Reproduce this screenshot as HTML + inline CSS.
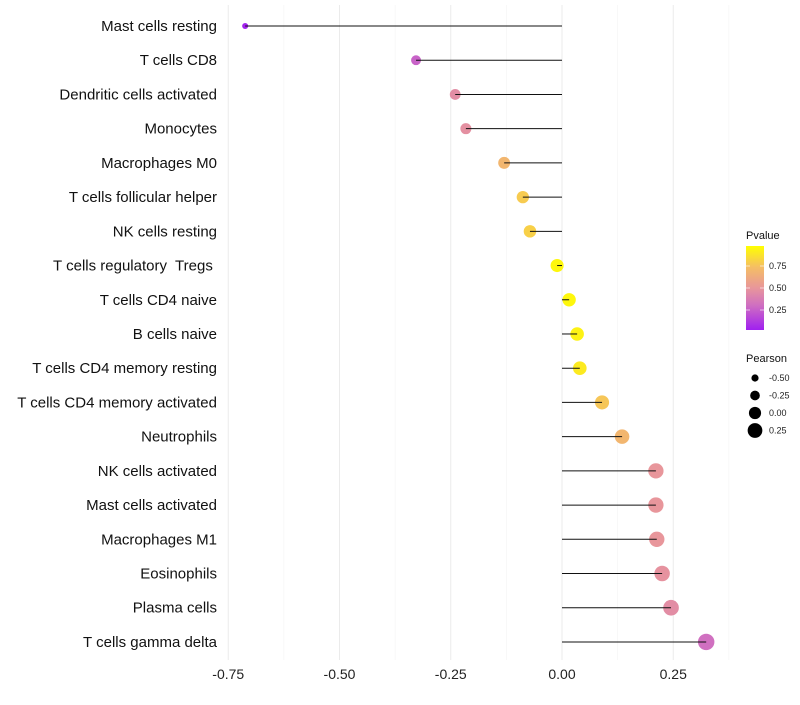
<!DOCTYPE html>
<html><head><meta charset="utf-8"><style>
body{margin:0;background:#fff;font-family:"Liberation Sans",sans-serif}
text{white-space:pre}
</style></head><body>
<svg id="c" width="800" height="700" xmlns="http://www.w3.org/2000/svg"></svg>
<script>
const categories=["Mast cells resting","T cells CD8","Dendritic cells activated","Monocytes","Macrophages M0","T cells follicular helper","NK cells resting","T cells regulatory  Tregs ","T cells CD4 naive","B cells naive","T cells CD4 memory resting","T cells CD4 memory activated","Neutrophils","NK cells activated","Mast cells activated","Macrophages M1","Eosinophils","Plasma cells","T cells gamma delta"];
const pearson=[-0.712,-0.328,-0.24,-0.216,-0.13,-0.088,-0.072,-0.011,0.016,0.034,0.04,0.09,0.135,0.211,0.211,0.213,0.225,0.245,0.324];
const pvalues=[0.01,0.25,0.45,0.47,0.7,0.8,0.82,0.97,0.97,0.95,0.92,0.78,0.7,0.5,0.5,0.5,0.48,0.45,0.3];
const xTicks=[-0.75,-0.5,-0.25,0,0.25];
const xTickLabels=["-0.75","-0.50","-0.25","0.00","0.25"];
const sizeLegend=[-0.5,-0.25,0,0.25];
const sizeLegendLabels=["-0.50","-0.25","0.00","0.25"];
const NS="http://www.w3.org/2000/svg";
const svg=document.getElementById('c');
function mk(t,a,p){const e=document.createElementNS(NS,t);for(const k in a)e.setAttribute(k,a[k]);(p||svg).appendChild(e);return e;}
const x=v=>562+v*445;
const y=i=>26+i*34.22;
const r=v=>Math.max(1.6,6.6+5*v);
const stops=[[0,[160,32,240]],[0.3,[208,112,192]],[0.5,[232,150,155]],[0.75,[245,190,100]],[1,[255,255,0]]];
function col(p){for(let i=1;i<stops.length;i++){if(p<=stops[i][0]){const a=stops[i-1],b=stops[i],t=(p-a[0])/(b[0]-a[0]);return 'rgb('+a[1].map((c,j)=>Math.round(c+(b[1][j]-c)*t)).join(',')+')';}}return 'rgb(255,255,0)';}
for(let k=0;k<=9;k++){const v=-0.75+k*0.125;const major=k%2===0;const g=mk('line',{x1:x(v),x2:x(v),y1:5,y2:660,stroke:major?'#ebebeb':'#f3f3f3','stroke-width':major?1:0.6});}
xTicks.forEach((v,i)=>{const t=mk('text',{x:x(v),y:679,'text-anchor':'middle','font-size':14,fill:'#222'});t.textContent=xTickLabels[i];});
categories.forEach((c,i)=>{
const t=mk('text',{x:217,y:y(i)+5,'text-anchor':'end','font-size':15,fill:'#111'});t.textContent=c;


const d=mk('circle',{cx:x(pearson[i]),cy:y(i),r:r(pearson[i]),fill:col(pvalues[i])});


const l=mk('line',{x1:x(0),x2:x(pearson[i]),y1:y(i),y2:y(i),stroke:'#111','stroke-width':1});


});
const lt=mk('text',{x:746,y:239,'font-size':11,fill:'#111'});lt.textContent='Pvalue';
const defs=mk('defs',{});const lg=mk('linearGradient',{id:'pg',x1:0,y1:1,x2:0,y2:0},defs);
stops.forEach(s=>mk('stop',{offset:s[0],'stop-color':col(s[0])},lg));
const bar=mk('rect',{x:746,y:246,width:18,height:84,fill:'url(#pg)'});
[[0.75,266],[0.5,288],[0.25,310]].forEach(([v,yy])=>{mk('line',{x1:746,x2:750,y1:yy,y2:yy,stroke:'#fff','stroke-opacity':0.6});mk('line',{x1:760,x2:764,y1:yy,y2:yy,stroke:'#fff','stroke-opacity':0.6});const t=mk('text',{x:769,y:yy+3,'font-size':9,fill:'#222'});t.textContent=v.toFixed(2);});
const st=mk('text',{x:746,y:362,'font-size':11,fill:'#111'});st.textContent='Pearson';
sizeLegend.forEach((v,i)=>{const yy=378+i*17.5;const c=mk('circle',{cx:755,cy:yy,r:r(v)-0.5,fill:'#000'});const t=mk('text',{x:769,y:yy+3,'font-size':9,fill:'#222'});t.textContent=sizeLegendLabels[i];});
</script>
</body></html>
